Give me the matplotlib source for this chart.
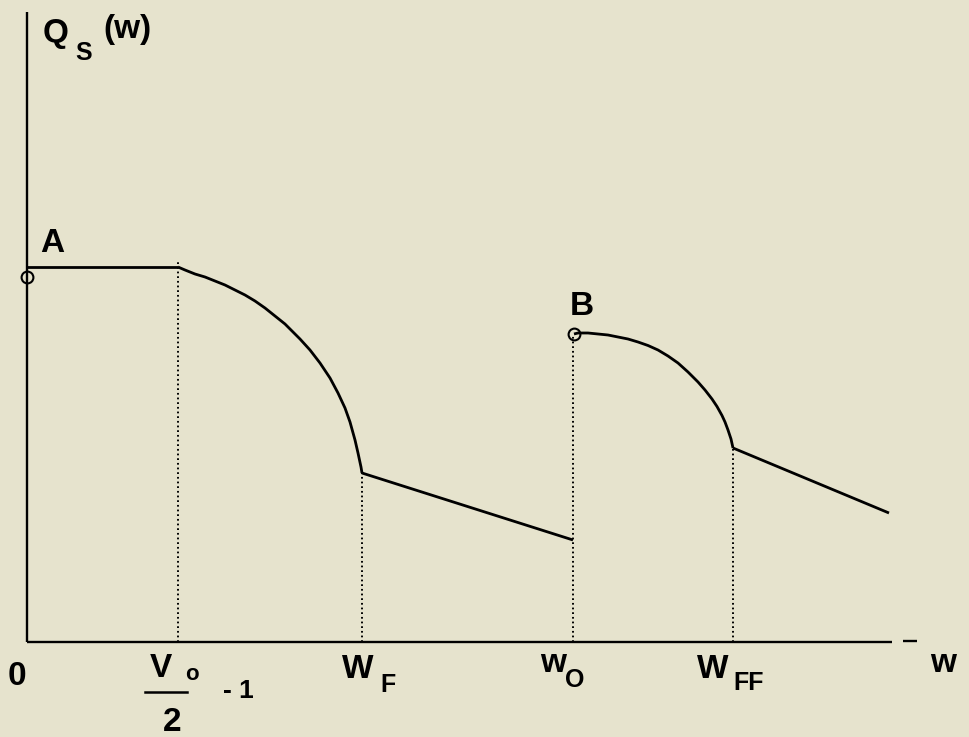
import numpy as np
import matplotlib.pyplot as plt

plt.rcParams['font.family'] = ['Liberation Sans', 'DejaVu Sans']

# flat part from A, then the first drop down to W_F
flat_x = [0.0, 1.51]
flat_y = [3.75, 3.75]
arc1_x = [1.51, 1.58, 1.68, 1.78, 1.88, 1.98, 2.08, 2.18, 2.28, 2.38, 2.48, 2.58,
          2.66, 2.73, 2.83, 2.93, 3.03, 3.11, 3.18, 3.23, 3.28, 3.31, 3.34, 3.35]
arc1_y = [3.75, 3.72, 3.68, 3.65, 3.61, 3.57, 3.52, 3.47, 3.41, 3.34, 3.26, 3.18,
          3.10, 3.03, 2.92, 2.79, 2.64, 2.49, 2.34, 2.20, 2.02, 1.89, 1.75, 1.69]
tail1_x = [3.35, 5.46]
tail1_y = [1.69, 1.02]

# second branch starting at B
arc2_x = [5.47, 5.51, 5.61, 5.71, 5.81, 5.91, 6.01, 6.11, 6.21, 6.31, 6.41, 6.51,
          6.61, 6.71, 6.78, 6.85, 6.90, 6.95, 6.98, 7.01, 7.04, 7.06]
arc2_y = [3.08, 3.09, 3.09, 3.08, 3.07, 3.05, 3.03, 3.00, 2.965, 2.92, 2.86, 2.79,
          2.70, 2.60, 2.52, 2.43, 2.355, 2.265, 2.20, 2.12, 2.03, 1.94]
tail2_x = [7.06, 8.62]
tail2_y = [1.94, 1.29]

# special points
pt_A = (0.0, 3.65)
pt_B = (5.47, 3.08)

# dotted guides: x position, height
guide_x = [1.51, 3.35, 5.46, 7.06]
guide_top = [3.80, 1.69, 3.08, 1.94]

x_end = 8.65
y_top = 6.30

bg = '#e6e3cd'
fig = plt.figure(figsize=(9.7, 7.37), dpi=100, facecolor=bg)
ax = fig.add_axes([0, 0, 1, 1])
ax.set_facecolor(bg)
ax.set_xlim(-0.27, 9.43)
ax.set_ylim(-0.95, 6.42)
ax.axis('off')

# axes
ax.plot([0, 0], [0, y_top], color='black', lw=1.7, solid_capstyle='butt')
ax.plot([0, x_end], [0, 0], color='black', lw=1.7, solid_capstyle='butt')
ax.plot([8.76, 8.90], [0.01, 0.01], color='black', lw=1.7, solid_capstyle='butt')

for gx, gt in zip(guide_x, guide_top):
    ax.plot([gx, gx], [0, gt], color='black', lw=1.4, linestyle=(0, (0.9, 1.5)))

kw = dict(color='black', lw=2.0, solid_joinstyle='round', solid_capstyle='butt')
ax.plot(flat_x, flat_y, **kw)
ax.plot(arc1_x, arc1_y, **kw)
ax.plot(tail1_x, tail1_y, **kw)
ax.plot(arc2_x, arc2_y, **kw)
ax.plot(tail2_x, tail2_y, **kw)

ax.plot(*pt_A, marker='o', ms=8.5, mfc='none', mec='black', mew=1.5)
ax.plot(*pt_B, marker='o', ms=8.5, mfc='none', mec='black', mew=1.5)

tk = dict(color='black', fontweight='bold', va='baseline', ha='left')
big = 24
sub = 18

ax.text(0.16, 6.00, 'Q', fontsize=big, **tk)
ax.text(0.48, 5.82, 'S', fontsize=sub, **tk)
ax.text(0.76, 6.04, '(w)', fontsize=big, **tk)

ax.text(0.13, 3.90, 'A', fontsize=big, **tk)
ax.text(5.43, 3.27, 'B', fontsize=big, **tk)

ax.text(-0.19, -0.43, '0', fontsize=big, **tk)
ax.text(1.23, -0.35, 'V', fontsize=big, **tk)
ax.text(1.58, -0.38, 'o', fontsize=16, **tk)
ax.plot([1.18, 1.60], [-0.50, -0.50], color='black', lw=1.8)
ax.text(1.36, -0.89, '2', fontsize=big, **tk)
ax.text(1.96, -0.56, '- 1', fontsize=sub + 1, **tk)

ax.text(3.15, -0.36, 'W', fontsize=big, **tk)
ax.text(3.53, -0.50, 'F', fontsize=sub, **tk)

ax.text(5.13, -0.30, 'w', fontsize=big, **tk)
ax.text(5.38, -0.45, 'O', fontsize=sub, **tk)

ax.text(6.70, -0.36, 'W', fontsize=big, **tk)
ax.text(7.06, -0.48, 'FF', fontsize=sub, **tk)

ax.text(9.03, -0.30, 'w', fontsize=big, **tk)

fig.savefig('out.png', dpi=100, facecolor=bg)
